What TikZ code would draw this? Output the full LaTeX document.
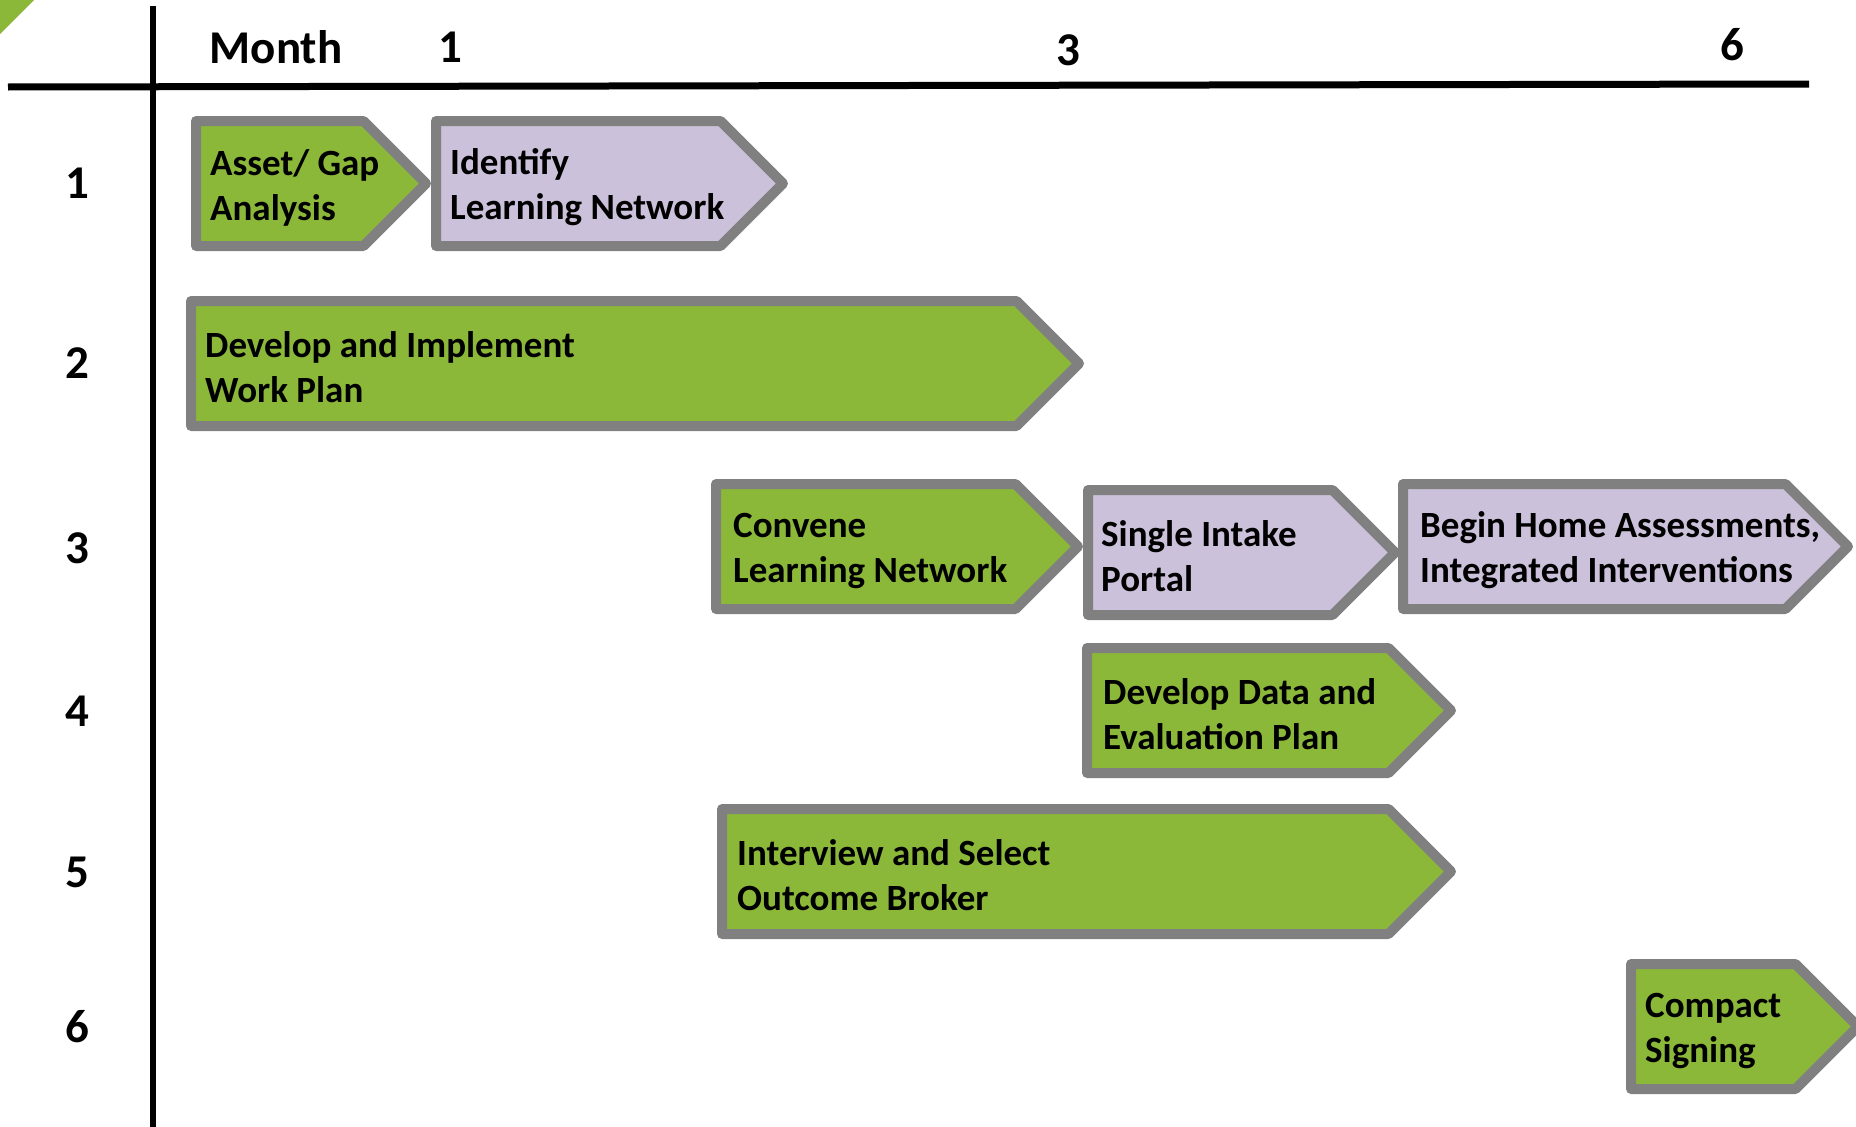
\documentclass[tikz,border=0pt]{standalone}
\usepackage{fontspec}
\setmainfont{Carlito}
\definecolor{leaf}{HTML}{8CB83A}
\definecolor{lilac}{HTML}{CCC1DA}
\definecolor{rim}{HTML}{808080}

\begin{document}
\begin{tikzpicture}[x=1pt, y=-1pt,
  phase/.style={draw=rim, line width=10pt, line join=round},
  words/.style={anchor=west, inner sep=0pt, yshift=-4pt, align=left, font=\fontsize{37}{45}\selectfont\bfseries},
  head/.style={inner sep=0pt, font=\fontsize{47}{56}\selectfont\bfseries}]
\useasboundingbox (0,0) rectangle (1856,1127);
\fill[leaf] (0,0) -- (34,0) -- (0,34) -- cycle;
\draw[line width=7pt] (8,87) -- (1809,84);
\draw[line width=6pt] (153,6) -- (153,1127);
\node[head] (month) at (276,47) {Month};
\node[head] (mon1) at (450,47) {1};
\node[head] (mon3) at (1068,50) {3};
\node[head] (mon6) at (1732,45) {6};
\node[head] (row1) at (77,183.5) {1};
\node[head] (row2) at (77,363.5) {2};
\node[head] (row3) at (77,548) {3};
\node[head] (row4) at (77,711) {4};
\node[head] (row5) at (77,872) {5};
\node[head] (row6) at (77,1027) {6};
\draw[phase, fill=leaf] (196,121) -- (363.5,121) -- (426,183.5) -- (363.5,246) -- (196,246) -- cycle;
\node[words] (gap) at (210,183.5) {Asset/ Gap\\Analysis};
\draw[phase, fill=lilac] (436,121) -- (720.5,121) -- (783,183.5) -- (720.5,246) -- (436,246) -- cycle;
\node[words] (identify) at (450,183.5) {Identify\\Learning Network};
\draw[phase, fill=leaf] (191,301) -- (1016.5,301) -- (1079,363.5) -- (1016.5,426) -- (191,426) -- cycle;
\node[words] (workplan) at (205,363.5) {Develop and Implement\\Work Plan};
\draw[phase, fill=leaf] (716,484) -- (1015.5,484) -- (1078,546.5) -- (1015.5,609) -- (716,609) -- cycle;
\node[words] (convene) at (733,546.5) {Convene\\Learning Network};
\draw[phase, fill=lilac] (1088,490) -- (1332.5,490) -- (1395,552.5) -- (1332.5,615) -- (1088,615) -- cycle;
\node[words] (intake) at (1101,552.5) {Single Intake\\Portal};
\draw[phase, fill=lilac] (1403,484) -- (1785.5,484) -- (1848,546.5) -- (1785.5,609) -- (1403,609) -- cycle;
\node[words] (homes) at (1420,546.5) {Begin Home Assessments,\\Integrated Interventions};
\draw[phase, fill=leaf] (1087,648) -- (1388.5,648) -- (1451,710.5) -- (1388.5,773) -- (1087,773) -- cycle;
\node[words] (dataplan) at (1103,710.5) {Develop Data and\\Evaluation Plan};
\draw[phase, fill=leaf] (722,809) -- (1388.5,809) -- (1451,871.5) -- (1388.5,934) -- (722,934) -- cycle;
\node[words] (broker) at (737,871.5) {Interview and Select\\Outcome Broker};
\draw[phase, fill=leaf] (1631,964) -- (1795.5,964) -- (1858,1026.5) -- (1795.5,1089) -- (1631,1089) -- cycle;
\node[words] (compact) at (1645,1026.5) {Compact\\Signing};
\end{tikzpicture}
\end{document}
